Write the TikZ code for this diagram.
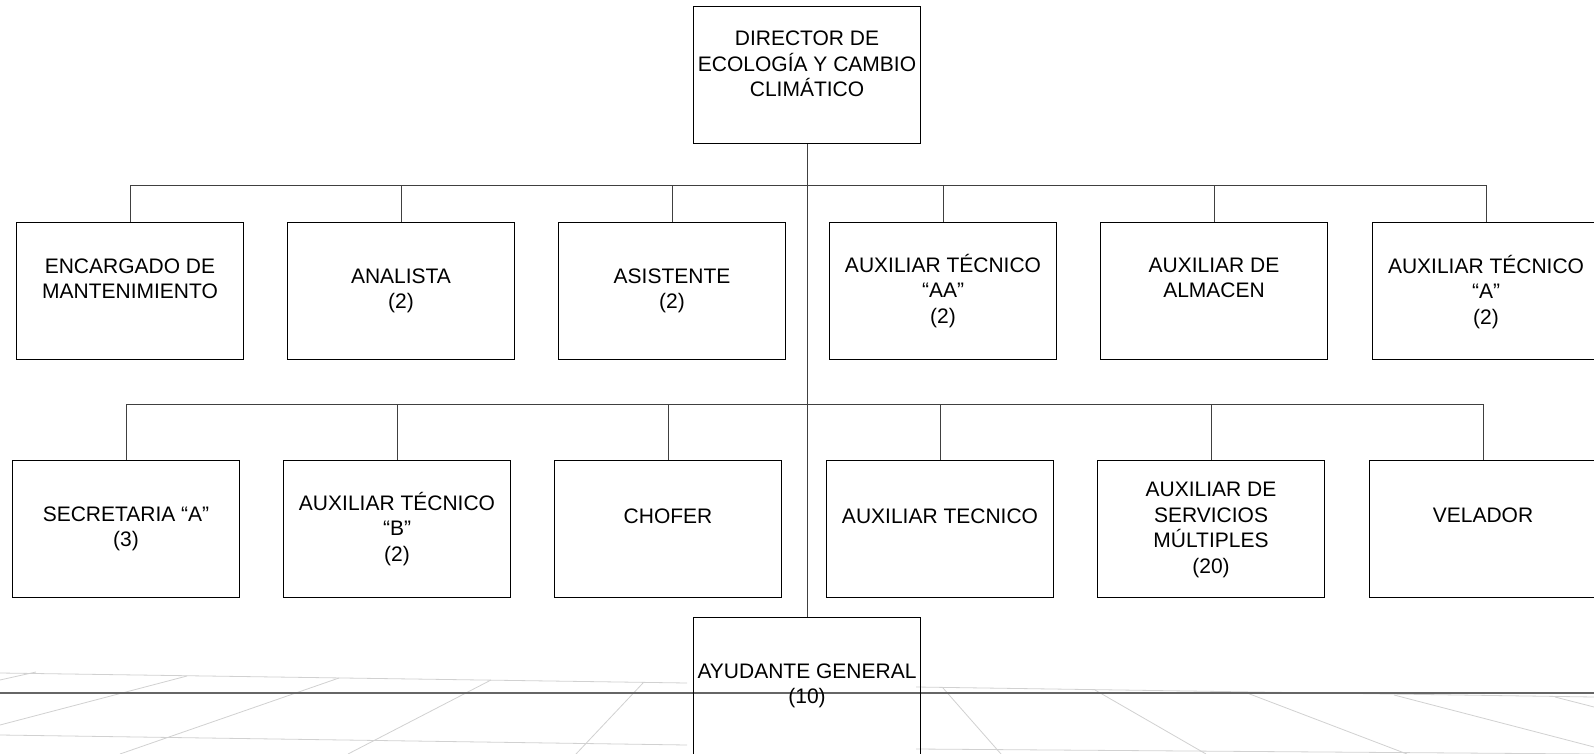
\documentclass[tikz,border=0pt]{standalone}
\usepackage{fontspec}
\setmainfont{Liberation Sans}
\usetikzlibrary{calc}

\begin{document}
\begin{tikzpicture}[x=0.5pt,y=-0.5pt,
  puesto/.style={draw,line width=0.9pt,minimum width=113.5pt,minimum height=68.5pt,
    inner sep=0pt},
  rotulo/.style={align=center,inner sep=0pt,font=\fontsize{10.5}{12.7}\selectfont},
  linea/.style={black!75,line width=0.5pt},
  piso/.style={black!18,line width=0.4pt},
]
  \fill[white] (0,0) rectangle (1594,754);
  \useasboundingbox (0,0) rectangle (1594,754);

  % faint floor behind the chart
  \draw[piso] (0,673) -- (687,683) (0,735) -- (687,745);
  \draw[piso] (916,687) -- (1594,697) (916,749) -- (1594,754);
  \draw[piso] (0,725) -- (187,676) (120,754) -- (339,678) (348,754) -- (491,680)
    (576,754) -- (643,683) (0,680) -- (36,672);
  \draw[piso] (943,688) -- (1001,754) (1095,690) -- (1206,754) (1247,693) -- (1407,754)
    (1394,695) -- (1594,747) (1555,697) -- (1594,707);
  \draw[black!60,line width=0.9pt] (0,693) -- (1594,693);

  % director
  \node[puesto] (director) at (807,75) {};
  \node[rotulo] (director-t) at (807,64) {DIRECTOR DE\\ECOLOGÍA Y CAMBIO\\CLIMÁTICO};

  % first row
  \node[puesto] (encargado) at (130,291) {};
  \node[rotulo] (encargado-t) at (130,279) {ENCARGADO DE\\MANTENIMIENTO};
  \node[puesto] (analista) at (401,291) {};
  \node[rotulo] (analista-t) at (401,291) {ANALISTA\\(2)};
  \node[puesto] (asistente) at (672,291) {};
  \node[rotulo] (asistente-t) at (672,291) {ASISTENTE\\(2)};
  \node[puesto] (auxaa) at (943,291) {};
  \node[rotulo] (auxaa-t) at (943,291) {AUXILIAR TÉCNICO\\“AA”\\(2)};
  \node[puesto] (almacen) at (1214,291) {};
  \node[rotulo] (almacen-t) at (1214,278) {AUXILIAR DE\\ALMACEN};
  \node[puesto] (auxa) at (1486,291) {};
  \node[rotulo] (auxa-t) at (1486,292) {AUXILIAR TÉCNICO\\“A”\\(2)};

  % second row
  \node[puesto] (secretaria) at (126,529) {};
  \node[rotulo] (secretaria-t) at (126,529) {SECRETARIA “A”\\(3)};
  \node[puesto] (auxb) at (397,529) {};
  \node[rotulo] (auxb-t) at (397,529) {AUXILIAR TÉCNICO\\“B”\\(2)};
  \node[puesto] (chofer) at (668,529) {};
  \node[rotulo] (chofer-t) at (668,516) {CHOFER};
  \node[puesto] (auxtec) at (940,529) {};
  \node[rotulo] (auxtec-t) at (940,516) {AUXILIAR TECNICO};
  \node[puesto] (servicios) at (1211,529) {};
  \node[rotulo] (servicios-t) at (1211,530) {AUXILIAR DE\\SERVICIOS\\MÚLTIPLES\\(20)};
  \node[puesto] (velador) at (1483,529) {};
  \node[rotulo] (velador-t) at (1483,515) {VELADOR};

  % bottom
  \node[puesto] (ayudante) at (807,686) {};
  \node[rotulo] (ayudante-t) at (807,686) {AYUDANTE GENERAL\\(10)};

  % lines
  \coordinate (bus1) at (0,186);
  \coordinate (bus2) at (0,404);
  \draw[linea] (director.south) -- (ayudante.north);
  \draw[linea] (encargado.north) -- (encargado.north |- bus1) -- (auxa.north |- bus1)
    -- (auxa.north);
  \foreach \n in {analista,asistente,auxaa,almacen}
    \draw[linea] (\n.north) -- (\n.north |- bus1);
  \draw[linea] (secretaria.north) -- (secretaria.north |- bus2) -- (velador.north |- bus2)
    -- (velador.north);
  \foreach \n in {auxb,chofer,auxtec,servicios}
    \draw[linea] (\n.north) -- (\n.north |- bus2);
\end{tikzpicture}
\end{document}
